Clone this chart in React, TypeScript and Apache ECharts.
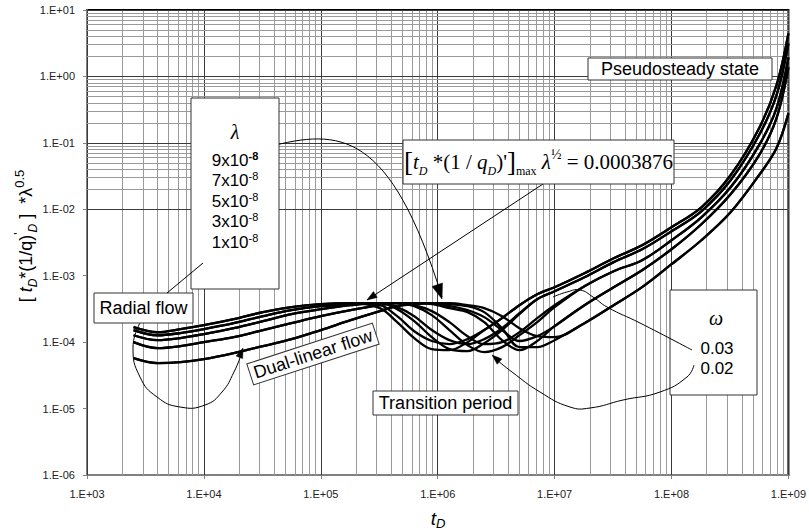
import React, { useEffect, useRef } from "react";
import * as echarts from "echarts";

// Dimensionless time shared by every curve
const tD = [
  2.5e3, 4.0e3, 6.3e3, 1.0e4, 1.8e4, 3.2e4, 5.6e4, 1.0e5, 1.8e5, 3.2e5,
  4.5e5, 6.3e5, 8.9e5, 1.26e6, 1.8e6, 2.5e6, 3.55e6, 5.0e6, 7.1e6, 1.0e7,
  1.8e7, 3.2e7, 5.6e7, 1.0e8, 1.8e8, 3.2e8, 5.6e8, 7.9e8, 1.0e9,
];

// [tD*(1/qD)'] * lambda^0.5 for each lambda / omega pair
const lam9_w002 = [1.68e-4, 1.41e-4, 1.57e-4, 1.80e-4, 2.22e-4, 2.83e-4, 3.36e-4, 3.73e-4, 3.86e-4, 3.25e-4, 2.00e-4, 1.15e-4, 7.85e-5, 7.58e-5, 1.00e-4, 1.52e-4, 2.30e-4, 3.60e-4, 5.27e-4, 6.72e-4, 1.09e-3, 1.83e-3, 2.87e-3, 5.36e-3, 1.07e-2, 3.25e-2, 0.165, 0.732, 4.43];
const lam9_w003 = [1.68e-4, 1.41e-4, 1.57e-4, 1.80e-4, 2.22e-4, 2.83e-4, 3.36e-4, 3.73e-4, 3.86e-4, 3.60e-4, 2.46e-4, 1.46e-4, 1.04e-4, 9.33e-5, 1.11e-4, 1.52e-4, 2.30e-4, 3.60e-4, 5.27e-4, 6.72e-4, 1.09e-3, 1.83e-3, 2.87e-3, 5.36e-3, 1.07e-2, 3.25e-2, 0.165, 0.732, 4.43];
const lam7_w002 = [1.52e-4, 1.27e-4, 1.37e-4, 1.57e-4, 1.93e-4, 2.46e-4, 3.03e-4, 3.48e-4, 3.73e-4, 3.86e-4, 3.13e-4, 2.07e-4, 1.19e-4, 7.85e-5, 7.32e-5, 9.66e-5, 1.52e-4, 2.64e-4, 4.43e-4, 5.85e-4, 9.49e-4, 1.60e-3, 2.50e-3, 4.67e-3, 9.33e-3, 2.73e-2, 0.130, 0.518, 3.13];
const lam7_w003 = [1.52e-4, 1.27e-4, 1.37e-4, 1.57e-4, 1.93e-4, 2.46e-4, 3.03e-4, 3.48e-4, 3.73e-4, 3.86e-4, 3.36e-4, 2.46e-4, 1.52e-4, 1.07e-4, 9.33e-5, 1.11e-4, 1.62e-4, 2.73e-4, 4.43e-4, 5.85e-4, 9.49e-4, 1.60e-3, 2.50e-3, 4.67e-3, 9.33e-3, 2.73e-2, 0.130, 0.518, 3.13];
const lam5_w002 = [1.27e-4, 1.07e-4, 1.15e-4, 1.32e-4, 1.62e-4, 2.07e-4, 2.64e-4, 3.13e-4, 3.60e-4, 3.86e-4, 3.86e-4, 3.48e-4, 2.55e-4, 1.52e-4, 9.01e-5, 7.07e-5, 8.41e-5, 1.27e-4, 2.00e-4, 3.36e-4, 6.95e-4, 1.17e-3, 1.71e-3, 3.42e-3, 7.58e-3, 2.14e-2, 9.17e-2, 0.330, 1.93];
const lam5_w003 = [1.27e-4, 1.07e-4, 1.15e-4, 1.32e-4, 1.62e-4, 2.07e-4, 2.64e-4, 3.13e-4, 3.60e-4, 3.86e-4, 3.86e-4, 3.60e-4, 2.93e-4, 2.00e-4, 1.23e-4, 9.33e-5, 1.00e-4, 1.41e-4, 2.30e-4, 3.60e-4, 6.95e-4, 1.17e-3, 1.71e-3, 3.42e-3, 7.58e-3, 2.14e-2, 9.17e-2, 0.330, 1.93];
const lam3_w002 = [1.00e-4, 8.12e-5, 8.71e-5, 1.00e-4, 1.19e-4, 1.52e-4, 1.93e-4, 2.46e-4, 3.03e-4, 3.60e-4, 3.86e-4, 3.86e-4, 3.73e-4, 3.25e-4, 2.83e-4, 2.00e-4, 1.07e-4, 7.58e-5, 1.04e-4, 1.74e-4, 3.60e-4, 6.72e-4, 1.21e-3, 2.50e-3, 5.95e-3, 1.68e-2, 6.49e-2, 0.234, 1.37];
const lam3_w003 = [1.00e-4, 8.12e-5, 8.71e-5, 1.00e-4, 1.19e-4, 1.52e-4, 1.93e-4, 2.46e-4, 3.03e-4, 3.60e-4, 3.86e-4, 3.86e-4, 3.86e-4, 3.48e-4, 3.03e-4, 2.38e-4, 1.52e-4, 1.04e-4, 1.23e-4, 1.74e-4, 3.60e-4, 6.72e-4, 1.21e-3, 2.50e-3, 5.95e-3, 1.68e-2, 6.49e-2, 0.234, 1.37];
const lam1_w002 = [5.74e-5, 4.83e-5, 5.00e-5, 5.55e-5, 6.83e-5, 8.71e-5, 1.11e-4, 1.52e-4, 2.14e-4, 2.93e-4, 3.48e-4, 3.73e-4, 3.86e-4, 3.73e-4, 3.48e-4, 2.83e-4, 1.62e-4, 8.41e-5, 8.41e-5, 1.07e-4, 1.93e-4, 3.60e-4, 6.72e-4, 1.49e-3, 3.42e-3, 9.02e-3, 3.25e-2, 8.27e-2, 0.278];
const lam1_w003 = [5.74e-5, 4.83e-5, 5.00e-5, 5.55e-5, 6.83e-5, 8.71e-5, 1.11e-4, 1.52e-4, 2.14e-4, 2.93e-4, 3.48e-4, 3.73e-4, 3.86e-4, 3.86e-4, 3.60e-4, 3.25e-4, 2.46e-4, 1.62e-4, 1.23e-4, 1.19e-4, 1.93e-4, 3.60e-4, 6.72e-4, 1.49e-3, 3.42e-3, 9.02e-3, 3.25e-2, 8.27e-2, 0.278];

const curves = [lam9_w002, lam9_w003, lam7_w002, lam7_w003, lam5_w002, lam5_w003, lam3_w002, lam3_w003, lam1_w002, lam1_w003];

// Annotation texts
const lambdaMantissas = ["9x10", "7x10", "5x10", "3x10", "1x10"];
const lambdaExponent = "-8";
const omegaValues = ["0.03", "0.02"];
const maxProduct = "0.0003876";

// Axis ranges (decade exponents) and minor grid steps
const xDecades = [3, 4, 5, 6, 7, 8, 9];
const yDecades = [-6, -5, -4, -3, -2, -1, 0, 1];
const minorSteps = [2, 3, 4, 5, 6, 7, 8, 9];

const SANS = '"Liberation Sans", Arial, sans-serif';
const SERIF = '"Liberation Serif", "Times New Roman", serif';

function expLabel(v: number): string {
  const e = Math.round(Math.log10(v));
  const sign = e < 0 ? "-" : "+";
  return `1.E${sign}${String(Math.abs(e)).padStart(2, "0")}`;
}

function gridLines(decades: number[], key: "xAxis" | "yAxis") {
  const items: any[] = [];
  decades.forEach((d, idx) => {
    items.push({ [key]: Math.pow(10, d), lineStyle: { color: "#3a3a3a", width: 1, type: "solid" } });
    if (idx < decades.length - 1) {
      minorSteps.forEach((k) => {
        items.push({ [key]: k * Math.pow(10, d), lineStyle: { color: "#9a9a9a", width: 1, type: "solid" } });
      });
    }
  });
  return items;
}

const Z = 50;

function box(x: number, y: number, w: number, h: number) {
  return { type: "rect", z: Z, shape: { x, y, width: w, height: h }, style: { fill: "#fff", stroke: "#333", lineWidth: 1 } };
}

function label(x: number, y: number, text: string, font: string, extra: any = {}) {
  return {
    type: "text",
    z: Z + 1,
    x,
    y,
    style: {
      text,
      font,
      fill: "#000",
      align: "center",
      verticalAlign: "middle",
      textAlign: "center",
      textVerticalAlign: "middle",
      ...extra,
    },
  };
}

function arrowHead(tip: number[], from: number[], len: number, half: number) {
  const dx = tip[0] - from[0];
  const dy = tip[1] - from[1];
  const d = Math.hypot(dx, dy) || 1;
  const ux = dx / d;
  const uy = dy / d;
  const bx = tip[0] - ux * len;
  const by = tip[1] - uy * len;
  return {
    type: "polygon",
    z: Z + 2,
    shape: { points: [tip, [bx - uy * half, by + ux * half], [bx + uy * half, by - ux * half]] },
    style: { fill: "#000", stroke: "#000", lineWidth: 0.5 },
  };
}

function curve(points: number[][], smooth = 0.5) {
  return { type: "polyline", z: Z + 2, shape: { points, smooth }, style: { stroke: "#000", fill: null, lineWidth: 1 } };
}

function buildGraphics() {
  const serifRich = {
    n: { fontFamily: SERIF, fontSize: 21, lineHeight: 30, fill: "#000", color: "#000" },
    i: { fontFamily: SERIF, fontSize: 21, lineHeight: 30, fontStyle: "italic", fill: "#000", color: "#000" },
    b: { fontFamily: SERIF, fontSize: 27, lineHeight: 30, fill: "#000", color: "#000" },
    s: { fontFamily: SERIF, fontSize: 12, lineHeight: 12, fontStyle: "italic", verticalAlign: "bottom", fill: "#000", color: "#000" },
    m: { fontFamily: SERIF, fontSize: 12, lineHeight: 12, verticalAlign: "bottom", fill: "#000", color: "#000" },
    h: { fontFamily: SERIF, fontSize: 14, lineHeight: 14, verticalAlign: "top", fill: "#000", color: "#000" },
  };

  const lambdaLines = lambdaMantissas.map((m, k) => ({
    type: "text",
    z: Z + 1,
    x: 235,
    y: 160 + k * 20.5,
    style: {
      text: `{n|${m}}{p|${lambdaExponent}}`,
      align: "center",
      verticalAlign: "middle",
      textAlign: "center",
      textVerticalAlign: "middle",
      rich: {
        n: { fontFamily: SANS, fontSize: 17, lineHeight: 20, fill: "#000", color: "#000" },
        p: {
          fontFamily: SANS,
          fontSize: 11,
          lineHeight: 11,
          verticalAlign: "top",
          fontWeight: k === 0 ? "bold" : "normal",
          fill: "#000",
          color: "#000",
        },
      },
    },
  }));

  const yTitle = {
    type: "text",
    z: Z + 1,
    x: 26,
    y: 236,
    rotation: Math.PI / 2,
    style: {
      text: "{n|[ }{i|t}{s|D}{n|*(1/q)}{p|'}{s|D}{n| ]  *}{n|λ}{h|0.5}",
      align: "center",
      verticalAlign: "middle",
      textAlign: "center",
      textVerticalAlign: "middle",
      rich: {
        n: { fontFamily: SANS, fontSize: 18, lineHeight: 26, fill: "#000", color: "#000" },
        i: { fontFamily: SANS, fontSize: 18, lineHeight: 26, fontStyle: "italic", fill: "#000", color: "#000" },
        s: { fontFamily: SANS, fontSize: 12, lineHeight: 12, fontStyle: "italic", verticalAlign: "bottom", fill: "#000", color: "#000" },
        p: { fontFamily: SANS, fontSize: 12, lineHeight: 12, verticalAlign: "top", fill: "#000", color: "#000" },
        h: { fontFamily: SANS, fontSize: 13, lineHeight: 13, verticalAlign: "top", fill: "#000", color: "#000" },
      },
    },
  };

  const xTitle = {
    type: "text",
    z: Z + 1,
    x: 438,
    y: 518,
    style: {
      text: "{i|t}{s|D}",
      align: "center",
      verticalAlign: "middle",
      textAlign: "center",
      textVerticalAlign: "middle",
      rich: {
        i: { fontFamily: SANS, fontSize: 19, lineHeight: 24, fontStyle: "italic", fill: "#000", color: "#000" },
        s: { fontFamily: SANS, fontSize: 13, lineHeight: 13, fontStyle: "italic", verticalAlign: "bottom", fill: "#000", color: "#000" },
      },
    },
  };

  const lambdaArrowPath = { x1: 268, y1: 147, cpx1: 340, cpy1: 128, cpx2: 390, cpy2: 130, x2: 442, y2: 297 };

  return [
    // callout leaders (drawn under the boxes)
    { type: "bezierCurve", z: Z - 1, shape: lambdaArrowPath, style: { stroke: "#000", fill: null, lineWidth: 1 } },
    arrowHead([442, 299], [428, 257], 15, 5.5),
    { type: "line", z: Z - 1, shape: { x1: 543, y1: 184, x2: 367, y2: 300 }, style: { stroke: "#000", lineWidth: 1 } },
    arrowHead([367, 300], [543, 184], 10, 3.5),
    { type: "line", z: Z + 2, shape: { x1: 167, y1: 293, x2: 203, y2: 263 }, style: { stroke: "#000", lineWidth: 1 } },
    curve([[140, 323], [133, 347], [140, 377], [157, 397], [180, 407], [205, 405], [222, 392], [234, 372], [241, 355]]),
    arrowHead([243, 348], [236, 366], 10, 3.5),
    curve([[692, 350], [640, 323], [607, 307], [593, 297], [580, 290], [567, 292], [553, 297]]),
    curve([[694, 365], [687, 377], [660, 392], [623, 400], [590, 408], [570, 407], [540, 392], [512, 372], [497, 360]]),
    arrowHead([492, 355], [508, 369], 10, 3.5),

    // boxes and their texts
    box(191, 98, 88, 191),
    label(235, 132, "λ", `italic 20px ${SERIF}`),
    ...lambdaLines,

    box(94, 293, 99, 30),
    label(143.5, 308, "Radial flow", `18px ${SANS}`),

    box(403, 140, 271, 44),
    {
      type: "text",
      z: Z + 1,
      x: 538.5,
      y: 162,
      style: {
        text: `{b|[}{i|t}{s|D}{n| *(1 / }{i|q}{s|D}{n|)'}{b|]}{m|max}{n| }{i|λ}{h|½}{n| = ${maxProduct}}`,
        align: "center",
        verticalAlign: "middle",
        textAlign: "center",
        textVerticalAlign: "middle",
        rich: serifRich,
      },
    },

    box(588, 58, 184, 22),
    label(680, 69, "Pseudosteady state", `18px ${SANS}`),

    box(670, 290, 87, 105),
    label(716, 318, "ω", `italic 20px ${SERIF}`),
    label(717, 348, omegaValues[0], `17px ${SANS}`),
    label(717, 368, omegaValues[1], `17px ${SANS}`),

    box(373, 391, 145, 24),
    label(445.5, 403, "Transition period", `18px ${SANS}`),

    {
      type: "group",
      x: 313,
      y: 354,
      rotation: 0.314,
      z: Z,
      children: [
        { type: "rect", z: Z, shape: { x: -66, y: -11, width: 132, height: 22 }, style: { fill: "#fff", stroke: "#333", lineWidth: 1 } },
        label(0, 0, "Dual-linear flow", `18px ${SANS}`),
      ],
    },

    yTitle,
    xTitle,
  ];
}

export default function App() {
  const ref = useRef<HTMLDivElement>(null);

  useEffect(() => {
    document.body.style.margin = "0";
    if (!ref.current) return;
    const chart = echarts.init(ref.current, undefined, { renderer: "svg" });

    const curveSeries = curves.map((vals, idx) => ({
      name: `c${idx}`,
      type: "line",
      data: tD.map((t, i) => [t, vals[i]]),
      showSymbol: false,
      symbol: "none",
      smooth: 0.35,
      z: 5,
      lineStyle: { color: "#000", width: 2.3 },
    }));

    const gridSeries = {
      name: "grid",
      type: "line",
      data: [[1e3, 1e-6]],
      symbol: "none",
      lineStyle: { width: 0 },
      z: 1,
      markLine: {
        silent: true,
        symbol: ["none", "none"],
        label: { show: false },
        animation: false,
        data: [...gridLines(xDecades, "xAxis"), ...gridLines(yDecades, "yAxis")],
      },
    };

    chart.setOption({
      animation: false,
      backgroundColor: "#fff",
      grid: { left: 87, right: 17, top: 10, bottom: 56, show: true, borderColor: "#000", borderWidth: 2, backgroundColor: "#fff" },
      xAxis: {
        type: "log",
        logBase: 10,
        min: 1e3,
        max: 1e9,
        splitNumber: 6,
        axisLine: { lineStyle: { color: "#808080", width: 2 } },
        axisTick: { show: true, length: 4, lineStyle: { color: "#808080" } },
        axisLabel: { formatter: expLabel, margin: 13, fontSize: 11, fontFamily: SANS, color: "#222" },
        splitLine: { show: false },
      },
      yAxis: {
        type: "log",
        logBase: 10,
        min: 1e-6,
        max: 10,
        splitNumber: 7,
        axisLine: { lineStyle: { color: "#808080", width: 2 } },
        axisTick: { show: true, length: 4, lineStyle: { color: "#808080" } },
        axisLabel: { formatter: expLabel, margin: 12, fontSize: 11, fontFamily: SANS, color: "#222" },
        splitLine: { show: false },
      },
      series: [gridSeries, ...curveSeries],
      graphic: { elements: buildGraphics() },
    });

    return () => chart.dispose();
  }, []);

  return <div ref={ref} style={{ width: 809, height: 531 }} />;
}
